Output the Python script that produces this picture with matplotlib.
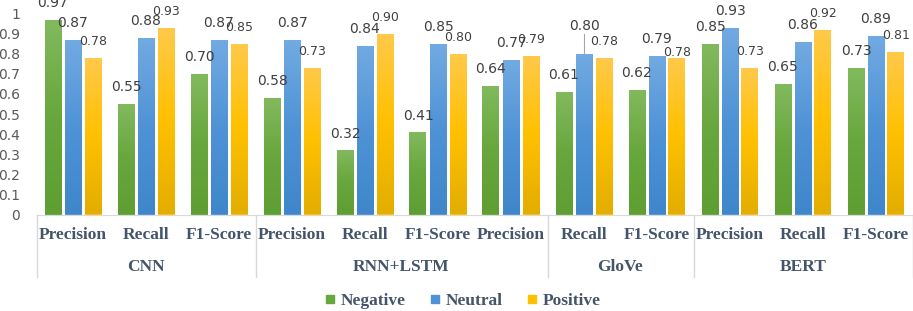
import numpy as np
import matplotlib
matplotlib.use("Agg")
import matplotlib.pyplot as plt
from matplotlib.colors import LinearSegmentedColormap
from matplotlib.lines import Line2D
from matplotlib.transforms import blended_transform_factory

metrics = ['Precision', 'Recall', 'F1-Score',
           'Precision', 'Recall', 'F1-Score', 'Precision',
           'Recall', 'F1-Score',
           'Precision', 'Recall', 'F1-Score']
models = ['CNN', 'RNN+LSTM', 'GloVe', 'BERT']
model_sizes = [3, 4, 2, 3]

negative = [0.97, 0.55, 0.70, 0.58, 0.32, 0.41, 0.64, 0.61, 0.62, 0.85, 0.65, 0.73]
neutral = [0.87, 0.88, 0.87, 0.87, 0.84, 0.85, 0.77, 0.80, 0.79, 0.93, 0.86, 0.89]
positive = [0.78, 0.93, 0.85, 0.73, 0.90, 0.80, 0.79, 0.78, 0.78, 0.73, 0.92, 0.81]

series = [('Negative', negative, ['#5E9E33', '#68A73D', '#82B95E']),
          ('Neutral', neutral, ['#3F86CB', '#4F93D6', '#72AAE2']),
          ('Positive', positive, ['#E3AE00', '#FFC000', '#FFC94A'])]

fig = plt.figure(figsize=(9.13, 3.11), dpi=100)
ax = fig.add_axes([36.5 / 913, 1 - 214.5 / 311, 876 / 913, 201 / 311])

x = np.arange(len(metrics))
width = 17 / 73
step = 20 / 73
label_col = '#404040'
cat_col = '#44546A'
grid_col = '#D9D9D9'

for i, (name, vals, cols) in enumerate(series):
    cmap = LinearSegmentedColormap.from_list(name, cols)
    pos = x + (i - 1) * step
    bars = ax.bar(pos, vals, width, color=cols[1], linewidth=0)
    for k, (b, v, px) in enumerate(zip(bars, vals, pos)):
        grad = np.linspace(0, 1, 100).reshape(-1, 1)
        im = ax.imshow(grad, extent=[b.get_x(), b.get_x() + b.get_width(), 0, v],
                       origin='lower', aspect='auto', cmap=cmap, zorder=2)
        im.set_clip_path(b)
        fs = 9 if name == 'Positive' else 10
        off = 9
        # leader-line label (GloVe recall, neutral) and squeezed label (GloVe F1, positive)
        if name == 'Neutral' and k == 7:
            off = 17
        if name == 'Positive' and k == 8:
            off = 1
        ax.annotate('%.2f' % v, (px, v), xytext=(0, off), textcoords='offset points',
                    ha='center', va='baseline', fontsize=fs, color=label_col,
                    annotation_clip=False, zorder=5)
        if off == 17:
            ax.plot([px, px], [v, v + 0.1], color='#A6A6A6', lw=0.8, zorder=4)

ax.set_xlim(-0.5, len(metrics) - 0.5)
ax.set_ylim(0, 1)
ax.set_yticks(np.arange(0, 1.01, 0.1))
ax.set_yticklabels(['0', '0.1', '0.2', '0.3', '0.4', '0.5', '0.6', '0.7', '0.8', '0.9', '1'],
                   fontsize=10, color='#595959')
ax.tick_params(axis='y', length=0, pad=12)
ax.set_xticks([])
for s in ['top', 'right', 'left']:
    ax.spines[s].set_visible(False)
ax.spines['bottom'].set_color(grid_col)

tr = blended_transform_factory(ax.transData, ax.transAxes)
for xi, m in zip(x, metrics):
    ax.text(xi, -0.102, m, transform=tr, ha='center', va='center',
            fontsize=12.5, fontweight='bold', family='Liberation Serif', color=cat_col)

start = 0
edges = [-0.5]
for name, n in zip(models, model_sizes):
    ax.text(start + (n - 1) / 2, -0.261, name, transform=tr, ha='center', va='center',
            fontsize=12.5, fontweight='bold', family='Liberation Serif', color=cat_col)
    start += n
    edges.append(start - 0.5)
for e in edges:
    ax.plot([e, e], [0, -0.311], transform=tr, color=grid_col, lw=1, clip_on=False)

handles = [Line2D([], [], marker='s', linestyle='none', markersize=6, color=c[1])
           for _, _, c in series]
fig.legend(handles, [s[0] for s in series], loc='center', bbox_to_anchor=(463 / 913, 1 - 301 / 311),
           ncol=3, frameon=False, handlelength=0.6, handletextpad=0.3, columnspacing=1.4,
           prop={'family': 'Liberation Serif', 'weight': 'bold', 'size': 12.5}, labelcolor=cat_col)

fig.savefig('out.png', dpi=100)
